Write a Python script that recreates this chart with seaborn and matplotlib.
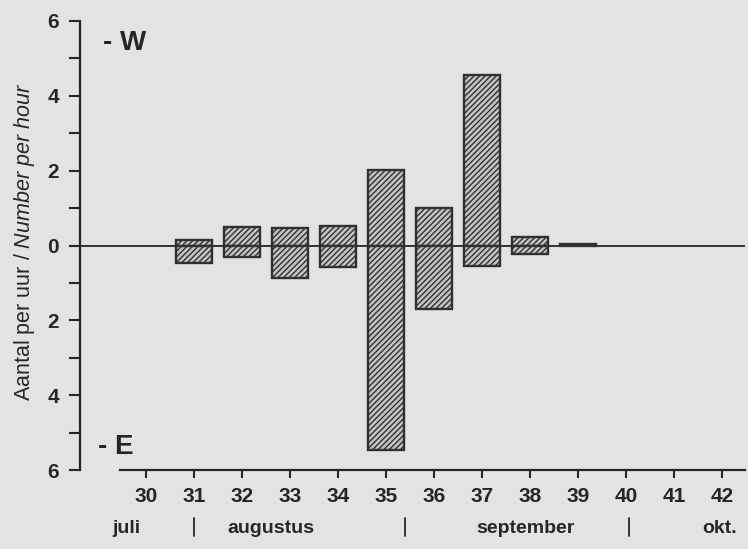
import numpy as np
import pandas as pd
import matplotlib
matplotlib.use('Agg')
import matplotlib.pyplot as plt
import seaborn as sns

# Weeks and counts per hour (west above the line, east below)
weeks = [30, 31, 32, 33, 34, 35, 36, 37, 38, 39, 40, 41, 42]
west = [0, 0.16, 0.50, 0.47, 0.51, 2.01, 0.99, 4.57, 0.22, 0.05, 0, 0, 0]
east = [0, 0.47, 0.31, 0.87, 0.57, 5.47, 1.69, 0.56, 0.23, 0, 0, 0, 0]

# Month labels under the week axis and the separators between them
months = ['juli', 'augustus', 'september', 'okt.']
month_pos = [29.6, 32.6, 37.9, 41.95]
month_breaks = [31.0, 35.4, 40.05]

y_ticks = [-6, -4, -2, 0, 2, 4, 6]

sns.set_theme(style='ticks')
plt.rcParams['font.family'] = ['Liberation Sans', 'DejaVu Sans']
plt.rcParams['mathtext.fontset'] = 'custom'
plt.rcParams['mathtext.rm'] = 'Liberation Sans'
plt.rcParams['mathtext.it'] = 'Liberation Sans:italic'
plt.rcParams['hatch.linewidth'] = 1.0

ink = '#262626'
paper = '#e3e3e3'

df = pd.DataFrame({'week': weeks, 'W': west, 'E': east})
df_w = df[df['W'] > 0]
df_e = df[df['E'] > 0].assign(E=lambda d: -d['E'])

fig = plt.figure(figsize=(7.48, 5.49), dpi=100, facecolor=paper)
ax = fig.add_axes([80 / 748, 1 - 470 / 549, 665 / 748, 449 / 549])
ax.set_facecolor(paper)

bar_kw = dict(native_scale=True, width=0.74, color='#c4c4c4', saturation=1,
              edgecolor='#303030', linewidth=1.7, hatch='//////', ax=ax)
sns.barplot(data=df_w, x='week', y='W', **bar_kw)
sns.barplot(data=df_e, x='week', y='E', **bar_kw)

ax.axhline(0, color='#333333', lw=1.4, zorder=5)

ax.set_xlim(28.63, 42.47)
ax.set_ylim(-6, 6)

# y axis: absolute values, minor ticks at the odd numbers
ax.set_yticks(y_ticks)
ax.set_yticklabels([str(abs(v)) for v in y_ticks])
ax.set_yticks(np.arange(-5, 6, 2), minor=True)
ax.tick_params(axis='y', which='both', direction='out', length=8, width=1.5,
               color=ink, pad=7, labelsize=15, labelcolor=ink)
for lab in ax.get_yticklabels():
    lab.set_fontweight('bold')

ax.set_xticks(weeks)
ax.set_xticklabels([str(w) for w in weeks])
ax.tick_params(axis='x', direction='out', length=6, width=1.5, color=ink,
               pad=6, labelsize=15, labelcolor=ink)
for lab in ax.get_xticklabels():
    lab.set_fontweight('bold')

sns.despine(ax=ax)
ax.spines['left'].set_color(ink)
ax.spines['left'].set_linewidth(1.6)
ax.spines['bottom'].set_color(ink)
ax.spines['bottom'].set_linewidth(1.6)
ax.spines['bottom'].set_bounds(29.46, 42.47)

ax.set_xlabel('')
ax.set_ylabel(r'Aantal per uur / $\it{Number\ per\ hour}$', fontsize=15.5,
              color=ink)
ax.yaxis.set_label_coords(-0.064, 0.508)

# direction markers
ax.text(29.1, 5.4, '- W', fontsize=20, fontweight='bold', color=ink,
        ha='left', va='center')
ax.text(29.0, -5.38, '- E', fontsize=20, fontweight='bold', color=ink,
        ha='left', va='center')

# month row under the week numbers
trans = ax.get_xaxis_transform()
for name, xp in zip(months, month_pos):
    ax.text(xp, -0.13, name, transform=trans, fontsize=14, fontweight='bold',
            color=ink, ha='center', va='center', clip_on=False)
for xb in month_breaks:
    ax.plot([xb, xb], [-0.106, -0.146], transform=trans, color=ink, lw=1.3,
            clip_on=False)

fig.savefig('out.png', dpi=100, facecolor=paper)
